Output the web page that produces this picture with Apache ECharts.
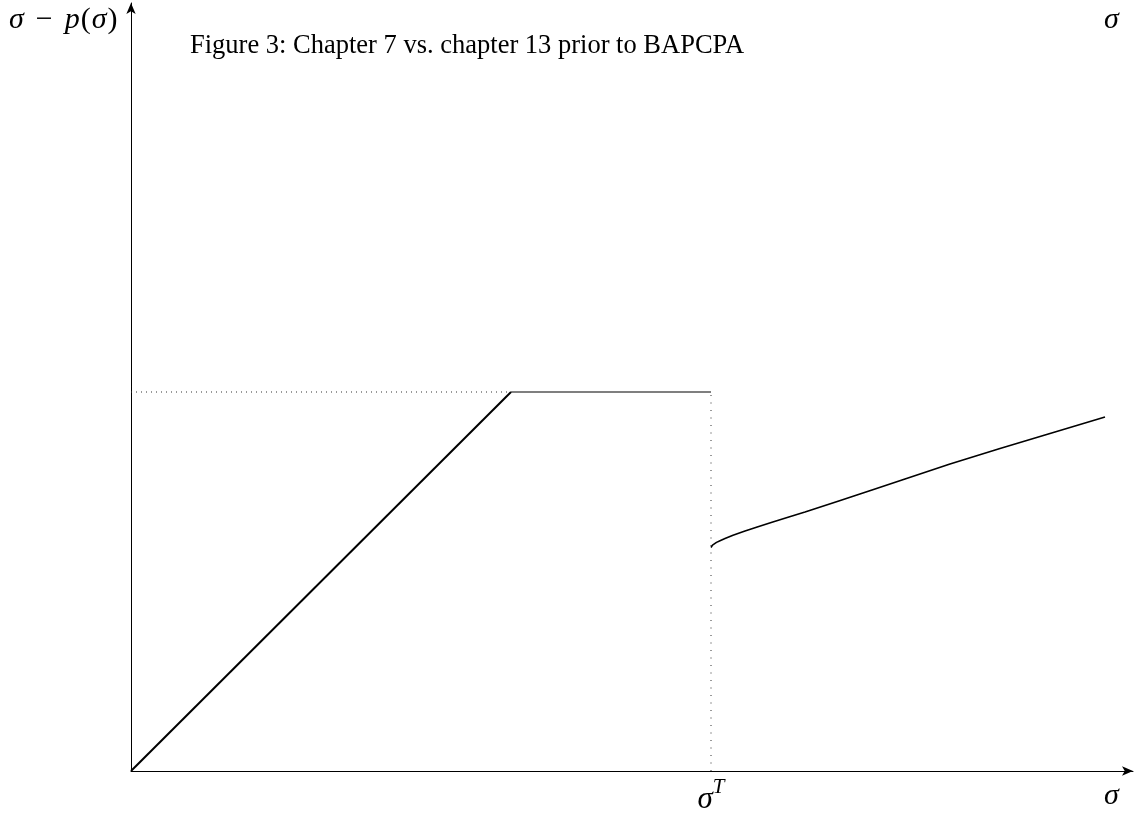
<!DOCTYPE html>
<html>
<head>
<meta charset="utf-8">
<script src="https://cdn.jsdelivr.net/npm/echarts@6/dist/echarts.min.js"></script>
<style>
html,body{margin:0;padding:0;background:#fff;}
#chart{width:1135px;height:816px;}
</style>
</head>
<body>
<div id="chart"></div>
<script>
// Data (x = σ, y = σ − p(σ)), arbitrary units
const sigmaT = 5.80;
const plateau = 3.79;
const kink = 3.80;
const rampLine = [[0, 0], [kink, plateau]];
const flatLine = [[kink, plateau], [sigmaT, plateau]];
const dottedH = [[0, plateau], [kink, plateau]];
const dottedV = [[sigmaT, 0], [sigmaT, plateau]];
const curveX = [5.800, 5.805, 5.815, 5.830, 5.855, 5.890, 5.940, 6.020, 6.140, 6.270, 6.410, 6.570, 6.740, 7.070, 7.410, 7.740, 8.190, 8.690, 9.190, 9.740];
const curveY = [2.235, 2.248, 2.259, 2.271, 2.286, 2.303, 2.325, 2.358, 2.400, 2.443, 2.488, 2.537, 2.589, 2.698, 2.810, 2.920, 3.070, 3.225, 3.375, 3.540];
const titleText = 'Figure 3: Chapter 7 vs. chapter 13 prior to BAPCPA';
const xLabel = 'σ';
const topRightLabel = 'σ';

const serif = '"Liberation Serif", "DejaVu Serif", serif';
const chart = echarts.init(document.getElementById('chart'));
chart.setOption({
  animation: false,
  backgroundColor: '#ffffff',
  grid: { left: 131, right: 2, top: 3, bottom: 45 },
  xAxis: {
    type: 'value', min: 0, max: 10.02,
    splitLine: { show: false },
    axisTick: { show: false },
    axisLine: { show: true, lineStyle: { color: '#000', width: 1 }, symbol: ['none', 'arrow'], symbolSize: [7, 11] },
    axisLabel: {
      customValues: [sigmaT],
      formatter: () => '{s|σ}{t|T}',
      margin: 6,
      rich: {
        s: { fontFamily: serif, fontStyle: 'italic', fontSize: 31, color: '#000', lineHeight: 38, verticalAlign: 'bottom' },
        t: { fontFamily: serif, fontStyle: 'italic', fontSize: 21, color: '#000', lineHeight: 38, verticalAlign: 'top' }
      }
    }
  },
  yAxis: {
    type: 'value', min: 0, max: 7.68,
    splitLine: { show: false },
    axisTick: { show: false },
    axisLabel: { show: false },
    axisLine: { show: true, lineStyle: { color: '#000', width: 1 }, symbol: ['none', 'arrow'], symbolSize: [7, 11] }
  },
  graphic: [
    { type: 'text', left: 190, top: 33, style: { text: titleText, font: '26.5px ' + serif, fill: '#000' } },
    { type: 'text', left: 9, top: 5, style: {
        text: '{i|σ}{m|−}{i|p}{n|(}{i|σ}{n|)}',
        rich: {
          i: { fontFamily: serif, fontStyle: 'italic', fontSize: 30, fill: '#000' },
          n: { fontFamily: serif, fontSize: 30, fill: '#000', padding: [0, 1, 0, 1] },
          m: { fontFamily: serif, fontSize: 30, fill: '#000', padding: [0, 12, 0, 12] }
        },
        font: '30px ' + serif, fill: '#000'
      } },
    { type: 'text', left: 1104, top: 5, style: { text: topRightLabel, font: 'italic 30px ' + serif, fill: '#000' } },
    { type: 'text', left: 1104, top: 781, style: { text: xLabel, font: 'italic 30px ' + serif, fill: '#000' } }
  ],
  series: [
    { type: 'line', data: rampLine, showSymbol: false, lineStyle: { color: '#000', width: 2 }, z: 3 },
    { type: 'line', data: flatLine, showSymbol: false, lineStyle: { color: '#000', width: 1.2 }, z: 3 },
    { type: 'line', data: dottedH, showSymbol: false, lineStyle: { color: '#333', width: 1, type: [1, 4] }, z: 2 },
    { type: 'line', data: dottedV, showSymbol: false, lineStyle: { color: '#333', width: 1, type: [1, 6.5] }, z: 2 },
    { type: 'line', data: curveX.map((x, i) => [x, curveY[i]]), showSymbol: false, lineStyle: { color: '#000', width: 1.6 }, z: 3 }
  ]
});
</script>
</body>
</html>
